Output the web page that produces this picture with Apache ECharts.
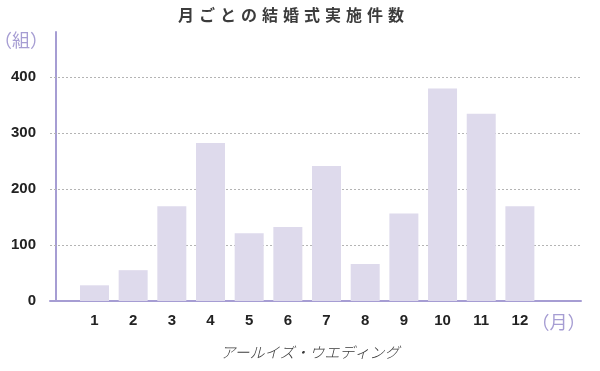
<!DOCTYPE html>
<html>
<head>
<meta charset="utf-8">
<script src="https://cdn.jsdelivr.net/npm/echarts@6/dist/echarts.min.js"></script>
<style>
html,body{margin:0;padding:0;background:#fff;}
#c{width:600px;height:371px;}
</style>
</head>
<body>
<div id="c"></div>
<script>
const months = [1,2,3,4,5,6,7,8,9,10,11,12];
const counts = [28,55,169,282,121,132,241,66,156,379,334,169];
const yTicks = [0,100,200,300,400];
const gridValues = [100,200,300,400];
const xLabelValues = [1,2,3,4,5,6,7,8,9,10,11,12,13];
const titleText = '月ごとの結婚式実施件数';
const yUnit = '（組）';
const xUnit = '（月）';
const footerText = 'アールイズ・ウエディング';

const purple = '#a69dd3';
const chart = echarts.init(document.getElementById('c'), null, {renderer:'canvas'});
chart.setOption({
  animation:false,
  backgroundColor:'#fff',
  grid:{left:50,right:19,top:32,bottom:70},
  xAxis:{
    type:'value', min:-0.15, max:13.58,
    axisLine:{show:true, onZero:false, lineStyle:{color:purple,width:2}},
    axisTick:{show:false},
    splitLine:{show:false},
    axisLabel:{
      customValues:xLabelValues,
      margin:12,
      color:'#222', fontSize:15, fontWeight:'bold', fontFamily:'Liberation Sans, Arial, sans-serif',
      formatter:function(v){ return v===13 ? '{u|'+xUnit+'}' : String(v); },
      rich:{u:{color:purple,fontSize:18,fontWeight:'normal',fontFamily:'Noto Sans CJK JP'}}
    }
  },
  yAxis:{
    type:'value', min:0, max:480,
    axisLine:{show:true, lineStyle:{color:purple,width:2}},
    axisTick:{show:false},
    splitLine:{show:false},
    axisLabel:{
      customValues:yTicks,
      margin:14,
      color:'#222', fontSize:15, fontWeight:'bold', fontFamily:'Liberation Sans, Arial, sans-serif'
    }
  },
  graphic:[
    {type:'text', x:291, y:15, style:{
      text:titleText.split('').map(c=>'{s|'+c+'}').join(''),
      align:'center', verticalAlign:'middle',
      rich:{s:{fill:'#3c3c3c', fontSize:16, fontWeight:'bold', fontFamily:'Noto Sans CJK JP', padding:[0,2.5,0,2.5]}}
    }},
    {type:'text', x:21, y:40, style:{text:yUnit, align:'center', verticalAlign:'middle',
      fill:purple, font:'18px "Noto Sans CJK JP"'}},
    {type:'text', x:310, y:352, style:{text:footerText, align:'center', verticalAlign:'middle',
      fill:'#3a3a3a', font:'italic 300 15px "Noto Sans CJK JP"'}}
  ],
  series:[{
    type:'bar',
    z:2,
    data:months.map((m,i)=>[m,counts[i]]),
    barWidth:29,
    itemStyle:{color:'#dedaec'},
    markLine:{
      z:1,
      silent:true,
      symbol:['none','none'],
      label:{show:false},
      lineStyle:{color:'#b4b4b4',type:[2,2],width:1},
      data:gridValues.map(v=>({yAxis:v}))
    }
  }]
});
</script>
</body>
</html>
